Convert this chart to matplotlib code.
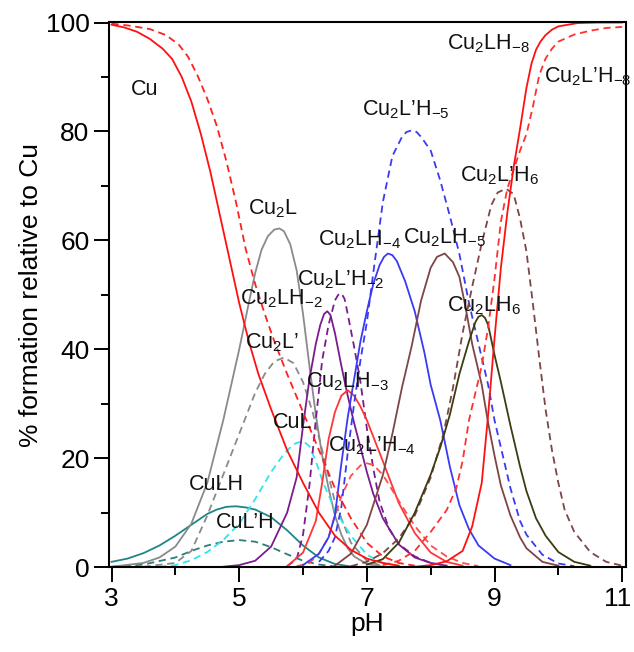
import matplotlib
matplotlib.use("Agg")
import matplotlib.pyplot as plt
from matplotlib.ticker import MultipleLocator
from matplotlib.transforms import ScaledTranslation

plt.rcParams['font.family'] = ['Liberation Sans', 'DejaVu Sans']
plt.rcParams['mathtext.fontset'] = 'custom'
plt.rcParams['mathtext.rm'] = 'Liberation Sans'
plt.rcParams['mathtext.it'] = 'Liberation Sans:italic'
plt.rcParams['mathtext.default'] = 'regular'

# ---------------- data (pH, % formation relative to Cu) ----------------
cu_ph = [3.0, 3.2, 3.4, 3.6, 3.8, 3.95, 4.1, 4.25, 4.4, 4.55, 4.7, 4.85, 5.0, 5.15, 5.3, 5.5, 5.75, 6.0, 6.25, 6.5, 6.75, 7.0, 7.25, 7.5]
cu = [99.6, 99.1, 98.3, 97.0, 95.2, 93.3, 90.0, 85.5, 79.5, 72.5, 64.5, 56.5, 48.5, 41.5, 35.5, 29.0, 21.5, 15.5, 10.0, 5.8, 3.2, 1.6, 0.8, 0.3]

cup_ph = [3.0, 3.3, 3.6, 3.85, 4.05, 4.2, 4.35, 4.5, 4.65, 4.8, 4.95, 5.1, 5.25, 5.4, 5.55, 5.75, 6.0, 6.25, 6.5, 6.75, 7.0, 7.25, 7.5, 7.75]
cup = [99.8, 99.4, 98.8, 97.7, 96.0, 93.7, 90.2, 86.0, 81.0, 74.5, 67.0, 58.5, 52.0, 46.5, 41.5, 35.5, 28.5, 21.5, 14.5, 9.0, 4.5, 2.0, 0.8, 0.3]

cu2l_ph = [3.0, 3.5, 3.75, 4.0, 4.25, 4.5, 4.75, 5.0, 5.15, 5.25, 5.35, 5.45, 5.55, 5.63, 5.7, 5.8, 5.9, 6.0, 6.1, 6.2, 6.3, 6.4, 6.5, 6.6, 6.7, 6.8, 7.0, 7.25]
cu2l = [0.1, 0.8, 1.8, 3.8, 8.0, 15.5, 27.0, 40.0, 48.5, 54.0, 58.3, 60.8, 62.0, 62.2, 61.7, 59.3, 54.5, 46.5, 37.0, 28.0, 20.5, 14.5, 9.5, 6.0, 3.5, 2.0, 0.6, 0.1]

cu2lp_ph = [3.5, 4.0, 4.25, 4.5, 4.75, 5.0, 5.25, 5.4, 5.55, 5.7, 5.85, 6.0, 6.15, 6.3, 6.5, 6.75, 7.0, 7.25]
cu2lp = [0.1, 0.8, 3.0, 9.5, 17.0, 24.5, 32.0, 35.5, 37.8, 38.5, 37.5, 34.0, 28.5, 21.5, 12.0, 4.5, 1.2, 0.2]

culh_ph = [3.0, 3.25, 3.5, 3.75, 4.0, 4.25, 4.5, 4.65, 4.8, 4.95, 5.1, 5.25, 5.5, 5.75, 6.0, 6.25, 6.5, 6.75]
culh = [1.0, 1.6, 2.6, 4.0, 5.8, 7.8, 9.8, 10.6, 11.1, 11.2, 11.0, 10.6, 9.2, 6.8, 4.0, 1.8, 0.6, 0.15]

culph_ph = [3.0, 3.5, 4.0, 4.25, 4.5, 4.75, 5.0, 5.25, 5.5, 5.75, 6.0, 6.25, 6.5]
culph = [0.1, 0.5, 1.8, 3.0, 4.0, 4.7, 5.0, 4.7, 3.7, 2.4, 1.2, 0.5, 0.15]

cul_ph = [3.75, 4.0, 4.25, 4.5, 4.75, 5.0, 5.25, 5.5, 5.7, 5.85, 6.0, 6.1, 6.2, 6.3, 6.5, 6.75, 7.0, 7.25, 7.5]
cul = [0.1, 0.4, 1.3, 2.8, 5.0, 8.0, 12.5, 17.5, 20.8, 22.6, 23.2, 22.2, 19.5, 16.0, 10.5, 5.8, 2.3, 0.8, 0.2]

cu2lh2m_ph = [4.75, 5.0, 5.25, 5.5, 5.75, 5.9, 6.0, 6.1, 6.2, 6.27, 6.33, 6.38, 6.43, 6.5, 6.6, 6.7, 6.8, 6.9, 7.0, 7.1, 7.25, 7.5, 7.75, 8.0, 8.25]
cu2lh2m = [0.1, 0.4, 1.2, 3.8, 10.0, 16.5, 26.0, 34.5, 41.0, 44.5, 46.5, 47.0, 46.3, 43.0, 37.0, 31.5, 26.5, 22.0, 17.5, 13.5, 9.0, 4.2, 1.8, 0.8, 0.3]

cu2lph2_ph = [5.75, 5.9, 6.0, 6.1, 6.2, 6.3, 6.4, 6.5, 6.55, 6.6, 6.65, 6.7, 6.8, 6.9, 7.0, 7.1, 7.2, 7.35, 7.5, 7.75, 8.0, 8.25]
cu2lph2 = [0.2, 1.5, 6.0, 15.0, 27.0, 38.0, 44.5, 49.0, 50.0, 50.3, 49.3, 46.5, 40.5, 34.0, 25.5, 18.2, 12.0, 7.0, 4.3, 2.0, 0.8, 0.3]

cu2lh3m_ph = [5.75, 6.0, 6.2, 6.3, 6.4, 6.5, 6.6, 6.7, 6.8, 6.9, 7.0, 7.1, 7.25, 7.5, 7.75, 8.0, 8.25, 8.5]
cu2lh3m = [0.2, 2.7, 8.5, 15.5, 23.5, 28.5, 31.5, 32.5, 31.5, 29.5, 27.0, 24.0, 19.5, 11.8, 6.3, 2.7, 1.0, 0.3]

cu2lph4m_ph = [5.9, 6.1, 6.25, 6.4, 6.5, 6.6, 6.75, 6.9, 7.0, 7.1, 7.25, 7.5, 7.75, 8.0, 8.25, 8.5, 8.75]
cu2lph4m = [0.2, 0.8, 2.5, 5.5, 9.5, 13.0, 16.8, 18.7, 19.1, 18.8, 17.0, 12.2, 7.6, 4.0, 2.0, 0.8, 0.2]

cu2lh4m_ph = [6.0, 6.25, 6.4, 6.5, 6.6, 6.7, 6.8, 6.9, 7.0, 7.1, 7.2, 7.27, 7.33, 7.4, 7.47, 7.6, 7.75, 7.9, 8.0, 8.15, 8.3, 8.45, 8.6, 8.75, 9.0, 9.25]
cu2lh4m = [0.4, 2.5, 5.5, 9.5, 19.0, 27.5, 34.5, 41.5, 47.0, 52.0, 55.5, 57.0, 57.6, 57.3, 56.2, 52.5, 47.0, 39.5, 33.5, 27.0, 18.5, 11.4, 7.0, 4.0, 1.6, 0.4]

cu2lph5m_ph = [6.25, 6.4, 6.5, 6.6, 6.7, 6.8, 6.9, 7.0, 7.1, 7.25, 7.4, 7.55, 7.62, 7.7, 7.78, 7.85, 8.0, 8.15, 8.3, 8.45, 8.6, 8.75, 8.9, 9.0, 9.1, 9.25, 9.4, 9.5, 9.75, 10.0, 10.25]
cu2lph5m = [1.0, 3.0, 5.5, 11.0, 21.0, 30.0, 38.0, 45.0, 54.0, 67.0, 75.5, 79.0, 79.9, 80.2, 79.9, 79.0, 76.5, 71.0, 64.5, 57.5, 48.5, 41.0, 33.5, 27.0, 22.0, 14.5, 8.5, 6.0, 2.3, 0.7, 0.2]

cu2lh5m_ph = [6.5, 6.75, 7.0, 7.25, 7.4, 7.55, 7.7, 7.85, 8.0, 8.1, 8.22, 8.35, 8.45, 8.55, 8.65, 8.8, 8.9, 9.0, 9.1, 9.25, 9.4, 9.5, 9.75, 10.0]
cu2lh5m = [0.3, 2.5, 7.8, 16.9, 24.5, 33.0, 40.5, 49.0, 55.0, 57.0, 57.6, 56.0, 53.3, 47.5, 41.0, 33.5, 26.5, 20.5, 15.0, 9.5, 5.5, 3.5, 1.0, 0.3]

cu2lh6_ph = [7.0, 7.25, 7.5, 7.75, 8.0, 8.15, 8.3, 8.45, 8.6, 8.7, 8.75, 8.8, 8.85, 8.9, 9.0, 9.1, 9.25, 9.4, 9.5, 9.65, 9.8, 10.0, 10.25, 10.5]
cu2lh6 = [0.5, 1.5, 4.5, 10.0, 17.0, 22.0, 28.0, 35.5, 41.5, 45.0, 46.0, 46.3, 45.8, 44.5, 39.0, 34.0, 26.0, 18.5, 14.0, 9.0, 5.8, 2.8, 1.0, 0.3]

cu2lph6_ph = [6.75, 7.0, 7.25, 7.5, 7.75, 8.0, 8.2, 8.35, 8.5, 8.65, 8.8, 8.95, 9.05, 9.18, 9.3, 9.4, 9.5, 9.6, 9.7, 9.8, 9.9, 10.0, 10.1, 10.25, 10.5, 10.75, 11.0]
cu2lph6 = [0.2, 1.0, 2.6, 5.3, 9.5, 16.5, 24.5, 33.0, 43.0, 51.5, 59.5, 66.5, 68.8, 69.5, 68.5, 64.0, 58.0, 48.5, 38.5, 29.0, 21.5, 15.5, 10.5, 6.5, 2.8, 1.0, 0.3]

cu2lh8m_ph = [7.75, 8.0, 8.25, 8.5, 8.65, 8.8, 8.9, 9.0, 9.1, 9.2, 9.3, 9.4, 9.5, 9.58, 9.65, 9.72, 9.8, 9.9, 10.0, 10.3, 10.6, 11.0]
cu2lh8m = [0.1, 0.4, 1.1, 3.0, 7.5, 15.5, 28.0, 42.0, 55.0, 65.0, 73.5, 80.5, 88.0, 92.5, 95.0, 96.5, 97.7, 98.7, 99.3, 99.9, 100.0, 100.0]

cu2lph8m_ph = [7.25, 7.5, 7.75, 8.0, 8.25, 8.4, 8.5, 8.6, 8.7, 8.8, 8.9, 9.0, 9.1, 9.2, 9.3, 9.4, 9.5, 9.6, 9.7, 9.8, 9.9, 10.0, 10.25, 10.5, 10.75, 11.0]
cu2lph8m = [0.4, 1.2, 3.0, 6.5, 10.5, 14.5, 19.5, 27.0, 32.0, 37.0, 44.0, 53.0, 63.5, 69.5, 73.0, 76.5, 79.5, 84.5, 90.3, 93.4, 95.2, 96.5, 97.8, 98.5, 99.0, 99.2]

x_ticks = [3, 5, 7, 9, 11]
y_ticks = [0, 20, 40, 60, 80, 100]

# (label, pH, % baseline)
labels = [
    ("Cu", 3.31, 86.7),
    ("Cu$_2$L", 5.14, 64.7),
    ("Cu$_2$LH$_{-8}$", 8.26, 95.0),
    ("Cu$_2$L\u2019H$_{-8}$", 9.78, 89.1),
    ("Cu$_2$L\u2019H$_{-5}$", 6.93, 83.0),
    ("Cu$_2$L\u2019H$_6$", 8.46, 70.75),
    ("Cu$_2$LH$_{-4}$", 6.24, 59.0),
    ("Cu$_2$LH$_{-5}$", 7.57, 59.4),
    ("Cu$_2$L\u2019H$_{-2}$", 5.91, 51.8),
    ("Cu$_2$LH$_{-2}$", 5.01, 48.2),
    ("Cu$_2$LH$_6$", 8.26, 46.9),
    ("Cu$_2$L\u2019", 5.09, 40.2),
    ("Cu$_2$LH$_{-3}$", 6.05, 33.1),
    ("CuL", 5.53, 25.5),
    ("Cu$_2$L\u2019H$_{-4}$", 6.39, 21.2),
    ("CuLH", 4.21, 14.2),
    ("CuL\u2019H", 4.64, 7.2),
]

# ---------------- figure ----------------
fig = plt.figure(figsize=(6.34, 6.52), dpi=100)
ax = fig.add_axes([109 / 634, 1 - 567.3 / 652, (626 - 109) / 634, (567.3 - 22) / 652])

lw = 1.3
dash = (4, 2.6)
series = [
    (culh_ph, culh, '#1f8585', '-'),
    (culph_ph, culph, '#2b7f7a', '--'),
    (cu2l_ph, cu2l, '#8a8a8a', '-'),
    (cu2lp_ph, cu2lp, '#8a8a8a', '--'),
    (cul_ph, cul, '#2ee6ee', '--'),
    (cu2lh2m_ph, cu2lh2m, '#7a1c8e', '-'),
    (cu2lph2_ph, cu2lph2, '#7a1c8e', '--'),
    (cu2lh3m_ph, cu2lh3m, '#ff3535', '-'),
    (cu2lph4m_ph, cu2lph4m, '#ff4d4d', '--'),
    (cu2lh4m_ph, cu2lh4m, '#3a3af5', '-'),
    (cu2lph5m_ph, cu2lph5m, '#3a3af5', '--'),
    (cu2lh5m_ph, cu2lh5m, '#7e4545', '-'),
    (cu2lph6_ph, cu2lph6, '#7e4545', '--'),
    (cu2lh6_ph, cu2lh6, '#3c3c12', '-'),
    (cu2lph8m_ph, cu2lph8m, '#ff3030', '--'),
    (cu2lh8m_ph, cu2lh8m, '#ff1010', '-'),
    (cup_ph, cup, '#ff2020', '--'),
    (cu_ph, cu, '#ff1010', '-'),
]
for xs, ys, col, ls in series:
    if ls == '--':
        ax.plot(xs, ys, color=col, lw=lw, dashes=dash, solid_joinstyle='round')
    else:
        ax.plot(xs, ys, color=col, lw=lw, solid_joinstyle='round')

for txt, xv, yv in labels:
    ax.text(xv, yv, txt, fontsize=15.5, ha='left', va='baseline', color='#111111')

ax.set_xlim(2.96, 11.06)
ax.set_ylim(0, 100.1)
ax.set_xticks(x_ticks)
ax.set_yticks(y_ticks)
ax.xaxis.set_minor_locator(MultipleLocator(1))
ax.yaxis.set_minor_locator(MultipleLocator(10))
ax.tick_params(which='major', direction='out', length=11, width=1.4, labelsize=19)
ax.tick_params(axis='x', which='major', pad=3)
ax.tick_params(axis='y', which='major', pad=3)
ax.tick_params(which='minor', direction='out', length=6, width=1.4)
ax.tick_params(top=False, right=False, which='both')
for s in ax.spines.values():
    s.set_linewidth(1.5)

# keep the last x tick label ("11") inside the canvas
xl = ax.get_xticklabels()
xl[-1].set_transform(xl[-1].get_transform() + ScaledTranslation(-5 / 100, 0, fig.dpi_scale_trans))

ax.set_xlabel('pH', fontsize=19, labelpad=1)
ax.set_ylabel('% formation relative to Cu', fontsize=19)
ax.yaxis.set_label_coords(-0.128, 0.5)

fig.savefig('out.png', dpi=100)
